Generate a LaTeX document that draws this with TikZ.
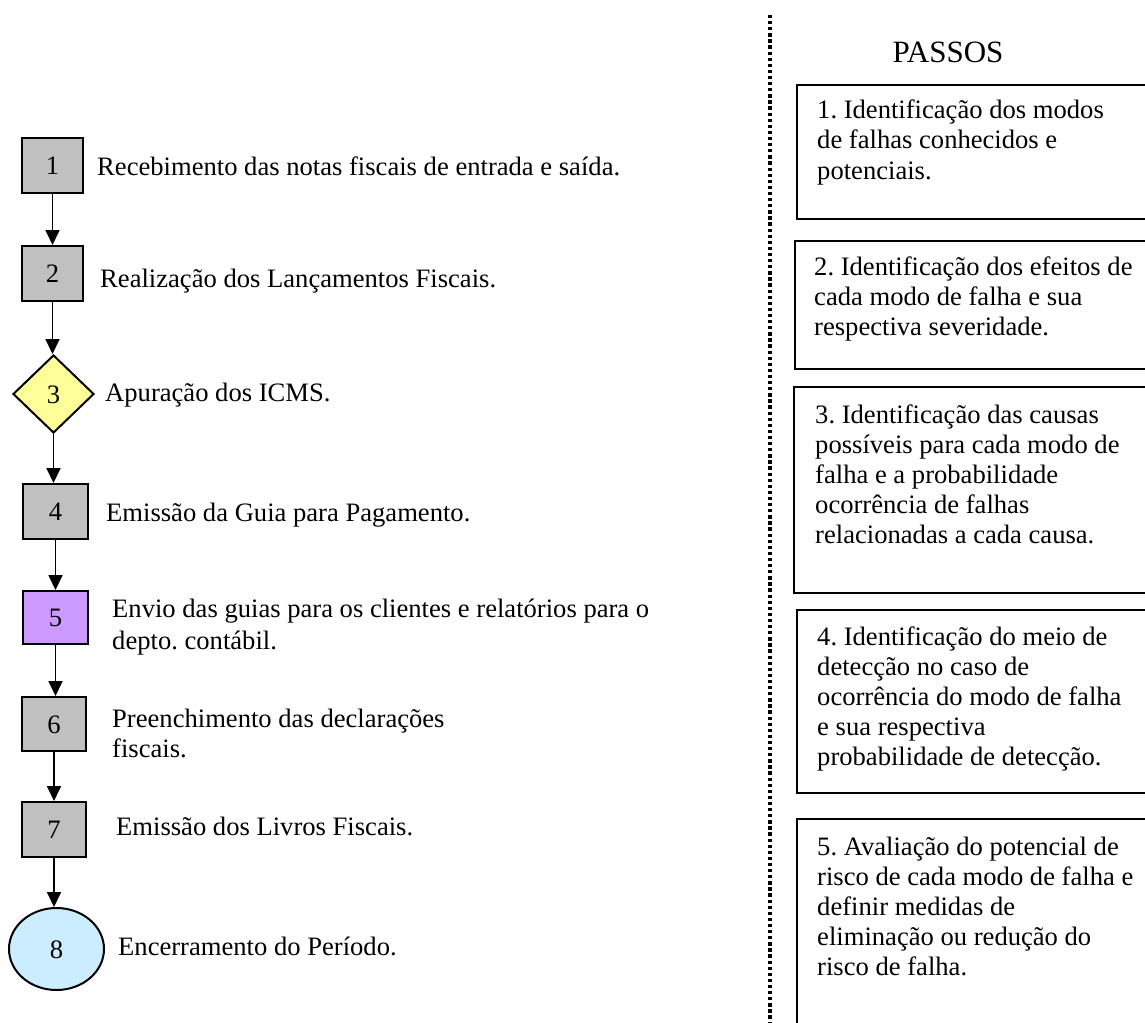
\documentclass[tikz,border=0pt]{standalone}
\usepackage{fontspec}
\setmainfont{Liberation Serif}
\usetikzlibrary{shapes.geometric,arrows.meta}
\definecolor{boxgray}{HTML}{C0C0C0}
\definecolor{boxpurple}{HTML}{CC99FF}
\definecolor{boxyellow}{HTML}{FFFF99}
\definecolor{boxblue}{HTML}{CCECFF}
\newcommand{\natsp}{\frenchspacing\spaceskip=0pt\xspaceskip=0pt\relax}
\begin{document}
\frenchspacing
\begin{tikzpicture}[x=1pt,y=-1pt,
  every node/.style={font=\fontsize{26.6}{30}\selectfont},
  numtxt/.style={text height=18pt, text depth=0pt},
  stepsq/.style={draw, line width=2pt, fill=boxgray, minimum width=61pt, minimum height=55pt, inner sep=0pt, numtxt},
  lbl/.style={anchor=base west, align=left, inner sep=0pt},
  lbltwo/.style={anchor=base west, text width=700pt, align=left, inner sep=0pt},
  flowarrow/.style={line width=1.8pt, -{Triangle[width=14pt,length=15pt]}},
  passbox/.style={draw, line width=1.8pt, anchor=north west, inner sep=0pt},
  passtxt/.style={anchor=base west, text width=400pt, align=left, inner sep=0pt},
  dotline/.style={line width=3.2pt, dash pattern=on 3.3pt off 2.8pt}]
\useasboundingbox (0,0) rectangle (1145,1022);
\clip (0,0) rectangle (1145,1022);

% flow chart
\node[stepsq] (n1) at (52.5,165) {1};
\node[stepsq] (n2) at (52.5,273.5) {2};
\node[draw, shape=diamond, line width=2pt, fill=boxyellow, minimum width=81pt, minimum height=78pt, inner sep=0pt, numtxt] (n3) at (53.5,394) {3};
\node[stepsq, minimum width=65pt] (n4) at (55.5,511.5) {4};
\node[stepsq, minimum width=65pt, minimum height=53pt, fill=boxpurple] (n5) at (55.5,617.5) {5};
\node[stepsq, minimum width=64pt, minimum height=54pt] (n6) at (54,724) {6};
\node[stepsq, minimum width=64pt] (n7) at (54,829.5) {7};
\node[draw, ellipse, line width=2pt, fill=boxblue, minimum width=95pt, minimum height=82pt, inner sep=0pt, numtxt] (n8) at (56.5,949) {8};

\draw[flowarrow] (n1.south) -- (n1.south |- n2.north);
\draw[flowarrow] (n2.south) -- (n2.south |- n3.north);
\draw[flowarrow] (n3.south) -- (n3.south |- n4.north);
\draw[flowarrow] (n4.south) -- (n4.south |- n5.north);
\draw[flowarrow] (n5.south) -- (n5.south |- n6.north);
\draw[flowarrow] (n6.south) -- (n6.south |- n7.north);
\draw[flowarrow] (n7.south) -- (n7.south |- n8.north);

\node[lbl] (t1) at (97,175) {Recebimento das notas fiscais de entrada e saída.};
\node[lbl] (t2) at (100,287) {Realização dos Lançamentos Fiscais.};
\node[lbl] (t3) at (105,401) {Apuração dos ICMS.};
\node[lbl] (t4) at (106,521) {Emissão da Guia para Pagamento.};
\node[lbltwo, font=\fontsize{26.6}{32.5}\selectfont] (t5) at (112,617) {\natsp Envio das guias para os clientes e relatórios para o\\depto. contábil.};
\node[lbltwo] (t6) at (112,727) {\natsp Preenchimento das declarações\\fiscais.};
\node[lbl] (t7) at (116,835) {Emissão dos Livros Fiscais.};
\node[lbl] (t8) at (118,955) {Encerramento do Período.};

% divider
\coordinate (dtop) at (770,15);
\coordinate (dbot) at (770,1030);
\draw[dotline] (dtop) -- (dbot);

% steps
\node[font=\fontsize{31}{36}\selectfont, anchor=base, inner sep=0pt] (hd) at (948,63) {PASSOS};

\node[passbox, minimum width=370pt, minimum height=134pt] (b1) at (796,84) {};
\node[passbox, minimum width=370pt, minimum height=128pt] (b2) at (794,240) {};
\node[passbox, minimum width=370pt, minimum height=206pt] (b3) at (793,386) {};
\node[passbox, minimum width=370pt, minimum height=183pt] (b4) at (796,609) {};
\node[passbox, minimum width=370pt, minimum height=260pt] (b5) at (796,818) {};

\node[passtxt] (p1) at (817,119) {\natsp 1. Identificação dos modos\\de falhas conhecidos e\\potenciais.};
\node[passtxt] (p2) at (814,275) {\natsp 2. Identificação dos efeitos de\\cada modo de falha e sua\\respectiva severidade.};
\node[passtxt] (p3) at (815,423) {\natsp 3. Identificação das causas\\possíveis para cada modo de\\falha e a probabilidade\\ocorrência de falhas\\relacionadas a cada causa.};
\node[passtxt] (p4) at (817,645) {\natsp 4. Identificação do meio de\\detecção no caso de\\ocorrência do modo de falha\\e sua respectiva\\probabilidade de detecção.};
\node[passtxt] (p5) at (817,855) {\natsp 5. Avaliação do potencial de\\risco de cada modo de falha e\\definir medidas de\\eliminação ou redução do\\risco de falha.};
\end{tikzpicture}
\end{document}
